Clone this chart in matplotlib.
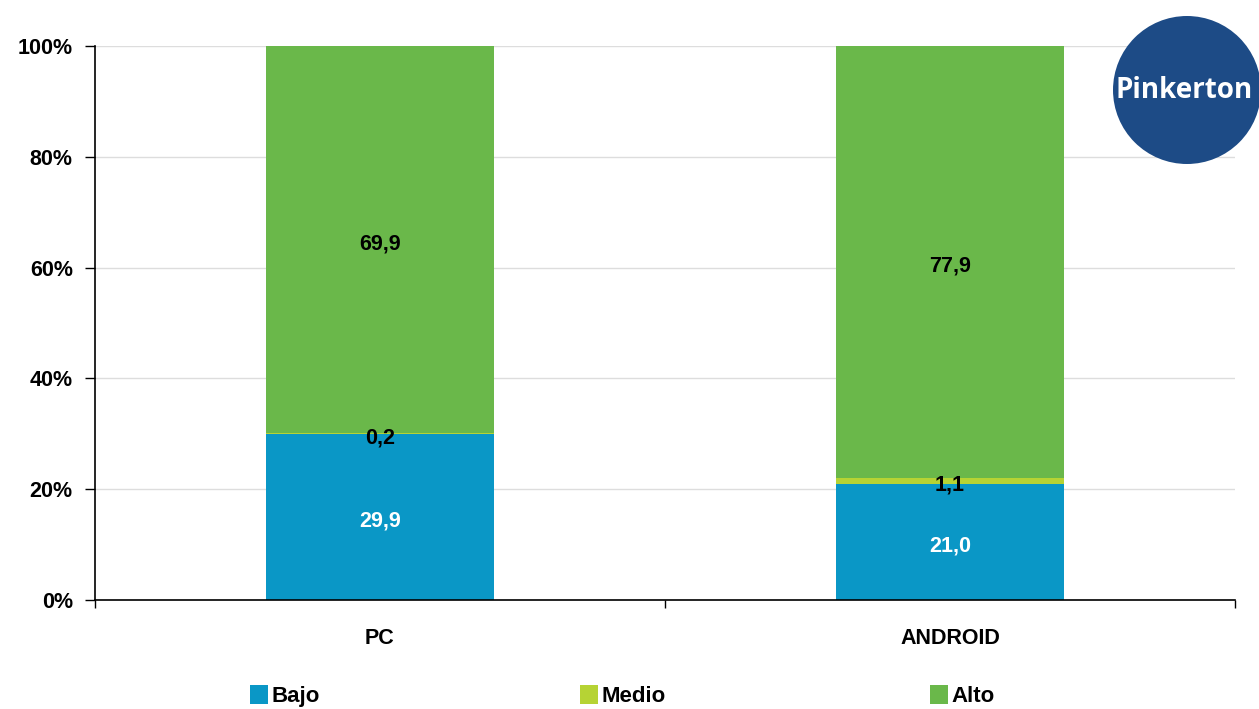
import matplotlib
matplotlib.use("Agg")
import matplotlib.pyplot as plt
from matplotlib.patches import Ellipse
import matplotlib.transforms as mtransforms
import numpy as np

categories = ["PC", "ANDROID"]
series_names = ["Bajo", "Medio", "Alto"]
bajo = [29.9, 21.0]
medio = [0.2, 1.1]
alto = [69.9, 77.9]
bajo_labels = ["29,9", "21,0"]
medio_labels = ["0,2", "1,1"]
alto_labels = ["69,9", "77,9"]
colors = ["#0a97c6", "#b6d334", "#6ab84a"]

plt.rcParams['font.family'] = ['Liberation Sans', 'DejaVu Sans']

fig = plt.figure(figsize=(12.59, 7.09), dpi=100)
ax = fig.add_axes([95/1259, 1-600/709, 1140/1259, 554/709])

x = np.arange(len(categories))
w = 0.4
bottom = np.zeros(len(categories))
values = [bajo, medio, alto]
labels = [bajo_labels, medio_labels, alto_labels]
txtcol = ["white", "black", "black"]
offset = mtransforms.offset_copy(ax.transData, fig=fig, x=0, y=-4, units="dots")
for vals, name, col, labs, tc in zip(values, series_names, colors, labels, txtcol):
    vals = np.array(vals)
    ax.bar(x, vals, w, bottom=bottom, color=col, label=name, zorder=2)
    for xi, b, v, l in zip(x, bottom, vals, labs):
        ax.text(xi, b + v / 2, l, ha="center", va="center", color=tc,
                fontsize=15.5, fontweight="bold", zorder=3, transform=offset)
    bottom = bottom + vals

ax.set_xlim(-0.5, 1.5)
ax.set_ylim(0, 100)
ax.set_yticks(np.arange(0, 101, 20))
ax.set_yticklabels([f"{v}%" for v in range(0, 101, 20)], fontsize=15.5, fontweight="bold")
ax.set_xticks(x)
ax.set_xticklabels(categories, fontsize=15.5, fontweight="bold")
ax.tick_params(axis="x", length=0, pad=20)
ax.set_xticks([-0.5, 0.5, 1.5], minor=True)
ax.tick_params(axis="x", which="minor", length=6, width=1, direction="out")
ax.tick_params(axis="y", length=7, width=1, pad=9)
ax.yaxis.grid(True, color="#dddddd", linewidth=1, zorder=0)
for s in ["top", "right"]:
    ax.spines[s].set_visible(False)
ax.spines["left"].set_linewidth(1.2)
ax.spines["bottom"].set_linewidth(1.2)

handles, labs = ax.get_legend_handles_labels()
leg_x = [265, 595, 945]
for h, lab, lx in zip(handles, labs, leg_x):
    fig.legend([h], [lab], loc="center left", bbox_to_anchor=(lx/1259 - 0.012, 1 - 696/709),
               frameon=False, handlelength=0.8, handleheight=0.9, handletextpad=0.15,
               prop={"size": 16, "weight": "bold"}, borderaxespad=0, borderpad=0)

circ = Ellipse((1187/1259, 1 - 90/709), 148/1259, 148/709, transform=fig.transFigure,
               facecolor="#1d4b86", edgecolor="none", zorder=5)
fig.patches.append(circ)
fig.text(1184/1259, 1 - 90/709, "Pinkerton", ha="center", va="center", color="white",
         fontsize=20, fontweight="bold", family=["Open Sans", "DejaVu Sans"], zorder=6)

fig.savefig("out.png", dpi=100)
